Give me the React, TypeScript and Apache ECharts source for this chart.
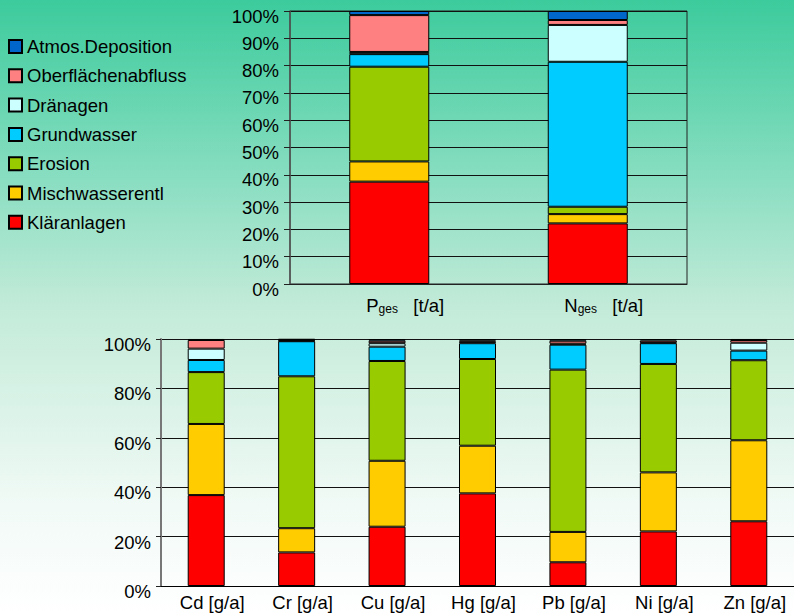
import React, { useEffect, useRef } from "react";
import * as echarts from "echarts";

const seriesNames = [
  "Kläranlagen",
  "Mischwasserentl",
  "Erosion",
  "Grundwasser",
  "Dränagen",
  "Oberflächenabfluss",
  "Atmos.Deposition",
];
const seriesColors = ["#FF0000", "#FFCC00", "#99CC00", "#00CCFF", "#CCFFFF", "#FF8080", "#0066CC"];

const topCategories = ["P", "N"];
const topSub = "ges";
const topUnit = "[t/a]";
// per series (Kläranlagen ... Atmos.Deposition), values for [P, N] in %
const topKlaer = [37.5, 22.2];
const topMisch = [7.4, 3.4];
const topErosion = [34.7, 2.7];
const topGrund = [4.6, 53.1];
const topDraen = [0.8, 13.5];
const topOberfl = [13.5, 1.8];
const topAtmos = [1.5, 3.3];
const topTicks = { min: 0, max: 100, interval: 10 };

const botCategories = ["Cd [g/a]", "Cr [g/a]", "Cu [g/a]", "Hg [g/a]", "Pb [g/a]", "Ni [g/a]", "Zn [g/a]"];
const botKlaer = [36.8, 13.6, 24.0, 37.5, 9.6, 22.1, 26.2];
const botMisch = [28.8, 9.8, 26.7, 19.3, 12.3, 23.9, 32.8];
const botErosion = [21.0, 61.5, 40.4, 35.1, 65.7, 43.9, 32.4];
const botGrund = [4.9, 14.2, 5.8, 6.4, 10.1, 8.4, 3.9];
const botDraen = [4.6, 0.2, 1.4, 0.6, 0.4, 0.3, 3.2];
const botOberfl = [3.5, 0.4, 1.0, 0.5, 1.2, 0.8, 1.1];
const botAtmos = [0.4, 0.3, 0.7, 0.6, 0.7, 0.6, 0.4];
const botTicks = { min: 0, max: 100, interval: 20 };

const topData = [topKlaer, topMisch, topErosion, topGrund, topDraen, topOberfl, topAtmos];
const botData = [botKlaer, botMisch, botErosion, botGrund, botDraen, botOberfl, botAtmos];

const FONT = "'Liberation Sans', Arial, 'DejaVu Sans', sans-serif";
const FS = 18.5;

export default function App() {
  const ref = useRef<HTMLDivElement>(null);
  useEffect(() => {
    document.body.style.margin = "0";
    if (!ref.current) return;
    const chart = echarts.init(ref.current, undefined, { renderer: "svg" });
    const series: any[] = [];
    seriesNames.forEach((name, i) => {
      series.push({
        name,
        type: "bar",
        stack: "top",
        xAxisIndex: 0,
        yAxisIndex: 0,
        barWidth: 80,
        data: topData[i],
        itemStyle: { color: seriesColors[i], borderColor: "#000", borderWidth: 1 },
      });
      series.push({
        name,
        type: "bar",
        stack: "bot",
        xAxisIndex: 1,
        yAxisIndex: 1,
        barWidth: 37,
        data: botData[i],
        itemStyle: { color: seriesColors[i], borderColor: "#000", borderWidth: 1 },
      });
    });
    chart.setOption({
      animation: false,
      backgroundColor: "transparent",
      textStyle: { fontFamily: FONT, color: "#000" },
      legend: {
        orient: "vertical",
        left: 8,
        top: 37,
        padding: 0,
        data: [...seriesNames].reverse(),
        icon: "rect",
        itemWidth: 13,
        itemHeight: 13,
        itemGap: 10.3,
        selectedMode: false,
        textStyle: { fontFamily: FONT, fontSize: FS, color: "#000", lineHeight: 19 },
      },
      grid: [
        {
          left: 290,
          top: 11,
          width: 397,
          height: 273,
          show: true,
          borderColor: "#222",
          borderWidth: 1,
          backgroundColor: "transparent",
        },
        { left: 161, top: 339, width: 640.5, height: 247 },
      ],
      xAxis: [
        {
          type: "category",
          gridIndex: 0,
          data: topCategories,
          axisLine: { lineStyle: { color: "#222", width: 1 } },
          axisTick: { show: false },
          axisLabel: {
            margin: 11,
            padding: [0, 0, 0, 32],
            formatter: (v: string) => `{m|${v}}{s|${topSub}}{m|   ${topUnit}}`,
            rich: {
              m: { fontFamily: FONT, fontSize: FS, color: "#000", lineHeight: 20 },
              s: { fontFamily: FONT, fontSize: 12, color: "#000", lineHeight: 10, verticalAlign: "bottom" },
            },
          },
        },
        {
          type: "category",
          gridIndex: 1,
          data: botCategories,
          axisLine: { lineStyle: { color: "#000", width: 1 } },
          axisTick: { show: false },
          axisLabel: {
            margin: 7,
            padding: [0, 0, 0, 12],
            fontFamily: FONT,
            fontSize: FS,
            color: "#000",
          },
        },
      ],
      yAxis: [
        {
          type: "value",
          gridIndex: 0,
          ...topTicks,
          axisLine: { show: true, lineStyle: { color: "#555", width: 1.5 } },
          axisTick: { show: true, length: 6, lineStyle: { color: "#222" } },
          splitLine: { show: true, lineStyle: { color: "#111", width: 1 } },
          axisLabel: {
            margin: 11,
            verticalAlign: "top",
            lineHeight: 10,
            formatter: "{value}%",
            fontFamily: FONT,
            fontSize: FS,
            color: "#000",
          },
        },
        {
          type: "value",
          gridIndex: 1,
          ...botTicks,
          axisLine: { show: true, lineStyle: { color: "#777", width: 2 } },
          axisTick: { show: true, length: 5, lineStyle: { color: "#222" } },
          splitLine: { show: true, lineStyle: { color: "#111", width: 1 } },
          axisLabel: {
            margin: 10,
            verticalAlign: "top",
            lineHeight: 11,
            formatter: "{value}%",
            fontFamily: FONT,
            fontSize: FS,
            color: "#000",
          },
        },
      ],
      series,
    });
    return () => chart.dispose();
  }, []);
  return (
    <div
      ref={ref}
      style={{
        width: 794,
        height: 615,
        background:
          "linear-gradient(to bottom, #3CCB9C 0%, #86DDC0 28%, #C3EBD9 50%, #F1FAF6 82%, #FFFFFF 100%)",
      }}
    />
  );
}
